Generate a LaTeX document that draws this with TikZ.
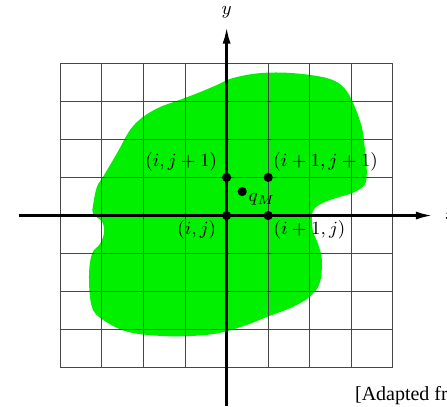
\documentclass[tikz,border=0pt]{standalone}
\usepackage{amsmath}
\usepackage{fix-cm}
\usepackage{fontspec}
\newfontfamily\capfont{Liberation Serif}
\usepackage{tikz}
\usetikzlibrary{arrows.meta}
\definecolor{blobgreen}{RGB}{0, 240, 0}
\definecolor{gridgray}{RGB}{70, 70, 70}

\begin{document}
\begin{tikzpicture}[x=20.8pt, y=19.05pt,
      gridline/.style={draw=gridgray, line width=0.5pt},
      axis/.style={line width=1.3pt, -{Latex[length=8.5pt, width=4pt]}},
      gpt/.style={circle, fill=black, minimum size=4.6pt, inner sep=0pt},
      plbl/.style={inner sep=0pt, font=\fontsize{9.3pt}{11pt}\selectfont},
    ]
    \useasboundingbox (-5.45,-5.02) rectangle (5.30,5.66);
    %% green region
    \fill[blobgreen] plot[smooth cycle, tension=0.6] coordinates {
      (0.15,3.61) (0.81,3.74) (1.59,3.74) (2.41,3.61) (2.80,3.38)
      (3.04,2.96) (3.25,2.33) (3.32,1.80) (3.37,1.20) (3.32,0.81)
      (3.04,0.60) (2.72,0.49) (2.31,0.33) (2.07,0.10) (2.07,-0.38)
      (2.19,-0.72) (2.29,-1.16) (2.24,-1.77) (2.00,-2.13) (1.59,-2.40)
      (0.97,-2.66) (0.49,-2.87) (-0.16,-3.08) (-0.81,-3.16) (-1.60,-3.16)
      (-2.39,-3.05) (-2.97,-2.74) (-3.24,-2.40) (-3.31,-1.61) (-3.24,-1.01)
      (-3.05,-0.75) (-2.95,-0.46) (-2.99,-0.17) (-3.21,0.04) (-3.21,0.28)
      (-3.12,0.75) (-2.97,1.02) (-2.63,1.65) (-2.32,2.25) (-2.01,2.59)
      (-1.60,2.85) (-1.12,3.04) (-0.64,3.24) (-0.23,3.43)};
    %% 8x8 grid
    \foreach \k in {-4,...,4}{
      \draw[gridline] (\k,-4) -- (\k,4);
      \draw[gridline] (-4,\k) -- (4,\k);
    }
    %% axes
    \coordinate (xs) at (-5,0);
    \coordinate (xe) at (4.96,0);
    \coordinate (ys) at (0,-5);
    \coordinate (ye) at (0,4.96);
    \draw[axis] (xs) -- (xe);
    \draw[axis] (ys) -- (ye);
    \node[plbl, anchor=base west] (xlbl) at ([xshift=6pt, yshift=-2.2pt]xe) {$x$};
    \node[plbl, anchor=south] (ylbl) at ([yshift=4pt]ye) {$y$};
    %% grid points
    \node[gpt] (p00) at (0,0) {};
    \node[gpt] (p10) at (1,0) {};
    \node[gpt] (p01) at (0,1) {};
    \node[gpt] (p11) at (1,1) {};
    \node[gpt] (qm) at (0.375,0.63) {};
    %% point labels
    \node[plbl, anchor=south east] at ([xshift=-2.8pt, yshift=1.4pt]p01.north west) {$(i,j+1)$};
    \node[plbl, anchor=south west] at ([xshift=0.6pt, yshift=1.4pt]p11.north east) {$(i+1,j+1)$};
    \node[plbl, anchor=north east] at ([xshift=-3.3pt, yshift=-0.6pt]p00.south west) {$(i,j)$};
    \node[plbl, anchor=north west] at ([xshift=0.8pt, yshift=-0.6pt]p10.south east) {$(i+1,j)$};
    \node[plbl, anchor=north west] at ([xshift=1.3pt, yshift=0.9pt]qm.south east) {$q_M$};
    %% source note (cut at the edge)
    \node[inner sep=0pt, anchor=base west, font=\capfont] (src) at (3.08,-4.86) {[Adapted fr};
\end{tikzpicture}
\end{document}
